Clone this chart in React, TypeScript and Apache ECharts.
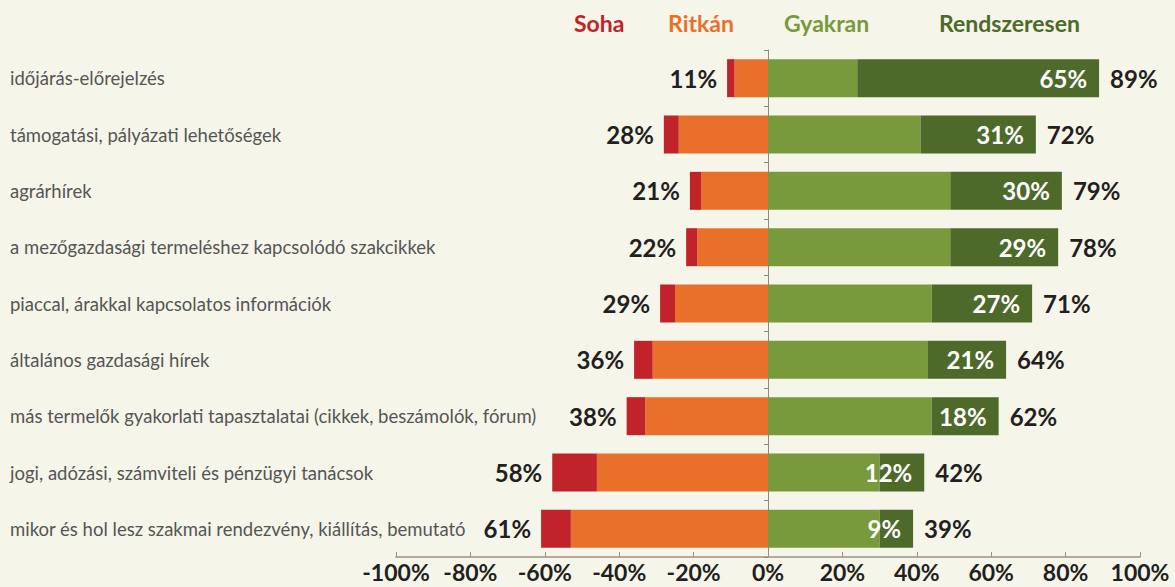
import React, { useEffect, useRef } from "react";
import * as echarts from "echarts";

const categories = [
  "időjárás-előrejelzés",
  "támogatási, pályázati lehetőségek",
  "agrárhírek",
  "a mezőgazdasági termeléshez kapcsolódó szakcikkek",
  "piaccal, árakkal kapcsolatos információk",
  "általános gazdasági hírek",
  "más termelők gyakorlati tapasztalatai (cikkek, beszámolók, fórum)",
  "jogi, adózási, számviteli és pénzügyi tanácsok",
  "mikor és hol lesz szakmai rendezvény, kiállítás, bemutató",
];
const soha = [2, 4, 3, 3, 4, 5, 5, 12, 8];
const ritkan = [9, 24, 18, 19, 25, 31, 33, 46, 53];
const gyakran = [24, 41, 49, 49, 44, 43, 44, 30, 30];
const rendszeresen = [65, 31, 30, 29, 27, 21, 18, 12, 9];
const leftTotals = [11, 28, 21, 22, 29, 36, 38, 58, 61];
const rightTotals = [89, 72, 79, 78, 71, 64, 62, 42, 39];
const legendNames = ["Soha", "Ritkán", "Gyakran", "Rendszeresen"];

const COLORS = ["#c1232b", "#e8702a", "#789a3c", "#4e6a2a"];
const LEGEND_LEFT = [573, 667, 783, 938];
const FONT = "Lato, 'Noto Sans', sans-serif";

export default function App() {
  const ref = useRef<HTMLDivElement>(null);
  useEffect(() => {
    const chart = echarts.init(ref.current!, null, { renderer: "svg" });
    const labelBold = { fontFamily: FONT, fontWeight: "bold", fontSize: 24, color: "#231f20" };
    chart.setOption({
      animation: false,
      backgroundColor: "#f5f5e9",
      legend: legendNames.map((n, i) => ({
        top: 6,
        left: LEGEND_LEFT[i] - 9,
        itemWidth: 0,
        itemHeight: 0,
        itemGap: 0,
        icon: "rect",
        selectedMode: false,
        textStyle: { fontFamily: FONT, fontWeight: "bold", fontSize: 23, color: COLORS[i] },
        data: [n],
      })),
      grid: { left: 396, right: 35, top: 50, bottom: 30 },
      xAxis: {
        type: "value",
        min: -100,
        max: 100,
        interval: 20,
        splitLine: { show: false },
        axisLine: { show: true, lineStyle: { color: "#9d9080", width: 1.5 } },
        axisTick: { show: true, inside: true, length: 5, lineStyle: { color: "#9d9080" } },
        axisLabel: {
          ...labelBold,
          fontSize: 23,
          margin: 3,
          formatter: (v: number) => `${v}%`,
        },
      },
      yAxis: [
        {
          type: "category",
          data: categories,
          inverse: true,
          axisLine: { show: false, onZero: false },
          axisTick: { show: false },
          axisLabel: {
            align: "left",
            margin: 386,
            fontFamily: FONT,
            fontSize: 18.5,
            color: "#555555",
          },
        },
        {
          type: "category",
          data: categories,
          inverse: true,
          position: "left",
          axisLine: { show: true, onZero: true, lineStyle: { color: "#8a8a88", width: 1 } },
          axisTick: { show: true, length: 4, lineStyle: { color: "#8a8a88" } },
          axisLabel: { show: false },
        },
      ],
      series: [
        {
          name: "Ritkán",
          type: "bar",
          stack: "all",
          barWidth: 38,
          barGap: "-100%",
          data: ritkan.map((v) => -v),
          itemStyle: { color: COLORS[1] },
        },
        {
          name: "Soha",
          type: "bar",
          stack: "all",
          barWidth: 38,
          data: soha.map((v) => -v),
          itemStyle: { color: COLORS[0] },
          label: {
            show: true,
            position: "left",
            distance: 10,
            ...labelBold,
            formatter: (p: any) => `${leftTotals[p.dataIndex]}%`,
          },
        },
        {
          name: "Gyakran",
          type: "bar",
          stack: "all",
          barWidth: 38,
          data: gyakran,
          itemStyle: { color: COLORS[2] },
        },
        {
          name: "Rendszeresen",
          type: "bar",
          stack: "all",
          barWidth: 38,
          data: rendszeresen,
          itemStyle: { color: COLORS[3] },
          label: {
            show: true,
            position: "insideRight",
            distance: 12,
            ...labelBold,
            color: "#ffffff",
            formatter: (p: any) => `${p.value}%`,
          },
        },
        {
          name: "Összesen",
          type: "bar",
          barWidth: 38,
          barGap: "-100%",
          silent: true,
          data: rightTotals,
          itemStyle: { color: "rgba(0,0,0,0)" },
          z: 1,
          label: {
            show: true,
            position: "right",
            distance: 11,
            ...labelBold,
            formatter: (p: any) => `${p.value}%`,
          },
        },
      ],
    });
    return () => chart.dispose();
  }, []);
  return (
    <div
      ref={ref}
      style={{ position: "fixed", left: 0, top: 0, width: 1175, height: 587, background: "#f5f5e9" }}
    />
  );
}
